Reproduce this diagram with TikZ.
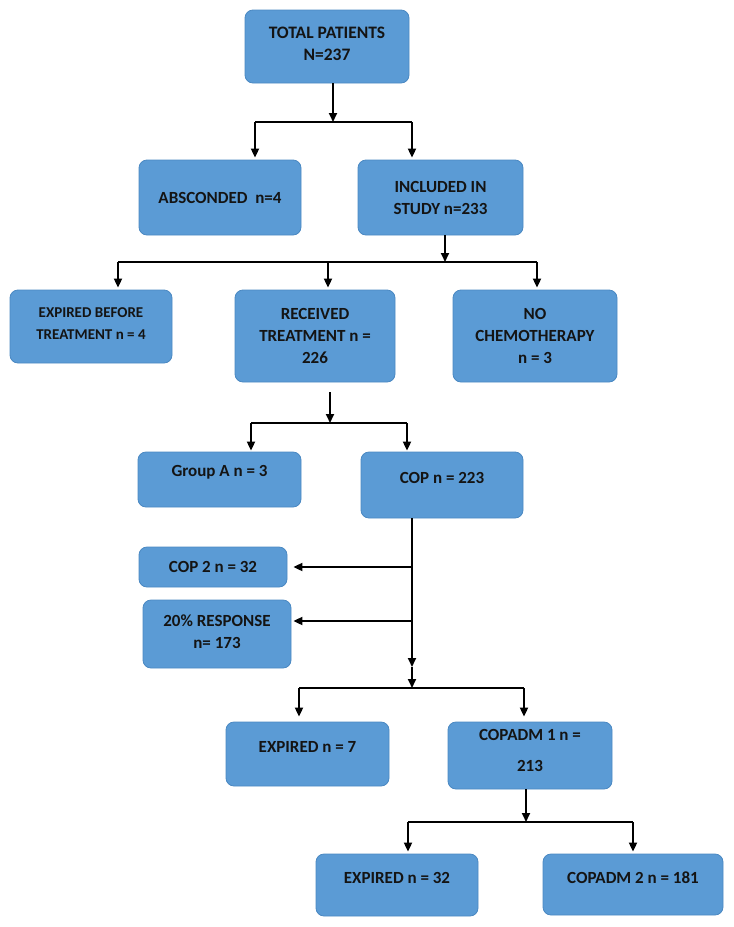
\documentclass[tikz,border=0pt]{standalone}
\usepackage{fontspec}
\setmainfont{Carlito}
\usetikzlibrary{arrows.meta,calc}
\definecolor{boxblue}{HTML}{5B9BD5}
\definecolor{boxedge}{HTML}{4A88C2}
\definecolor{boxink}{HTML}{141414}
\tikzstyle{box}=[draw=boxedge,line width=0.8pt,fill=boxblue,rounded corners=8pt,inner sep=0pt]
\tikzstyle{boxtext}=[text=boxink,font=\bfseries\fontsize{17}{22}\selectfont,align=center,inner sep=0pt]
\tikzstyle{smalltext}=[font=\bfseries\fontsize{15}{22}\selectfont]
\tikzstyle{link}=[line width=1.8pt,black]
\tikzstyle{arr}=[link,-{Triangle[length=9pt,width=8pt]}]
\newcommand{\addbox}[7][]{ % [text options] name, centre x, centre y, width, height, text
\node[box,minimum width=#5pt,minimum height=#6pt] (#2) at (#3,#4) {};
\node[boxtext,#1] (#2t) at (#2.center) {#7};
}
\begin{document}
\begin{tikzpicture}[x=1pt,y=-1pt]
\useasboundingbox (0,0) rectangle (734,927);
	\addbox[yshift=2.5pt,font=\bfseries\fontsize{17.5}{22}\selectfont]{tot}{327}{46.5}{164}{73}{TOTAL PATIENTS\\N=237}
	\addbox{absc}{220}{197.5}{162}{75}{ABSCONDED\ \ n=4}
	\addbox{incl}{440.5}{197.5}{165}{75}{INCLUDED IN\\STUDY n=233}
	\addbox[yshift=2.5pt,smalltext]{expb}{91}{326.5}{162}{73}{EXPIRED BEFORE\\TREATMENT n = 4}
	\addbox{recv}{315}{336}{160}{92}{RECEIVED\\TREATMENT n =\\226}
	\addbox{nochemo}{535}{336}{164}{92}{NO\\CHEMOTHERAPY\\n = 3}
	\addbox[yshift=7.5pt]{grpA}{219.5}{479.5}{163}{55}{Group A n = 3}
	\addbox[yshift=7pt]{cop}{442}{485}{162}{66}{COP n = 223}
	\addbox{cop2}{213}{567}{148}{40}{COP 2 n = 32}
	\addbox[yshift=2pt]{resp}{217}{634}{148}{68}{20\% RESPONSE\\n= 173}
	\addbox[yshift=7pt]{expa}{307.5}{754}{163}{64}{EXPIRED n = 7}
	\addbox[yshift=5pt]{cadma}{530}{755.5}{164}{67}{COPADM 1 n =\\[9pt]213}
	\addbox[yshift=7pt]{expb2}{397}{885}{162}{62}{EXPIRED n = 32}
	\addbox[yshift=6.5pt]{cadmb}{633}{884.5}{180}{61}{COPADM 2 n = 181}
	% first split
	\coordinate (j1) at (333,122);
	\coordinate (j1l) at (255,122);
	\coordinate (j1r) at (412,122);
	\draw[arr] (tot.south -| j1) -- (j1);
	\draw[link] (j1l) -- (j1r);
	\draw[arr] (j1l) -- ([yshift=2pt]j1l |- absc.north);
	\draw[arr] (j1r) -- ([yshift=2pt]j1r |- incl.north);
	% three way split
	\coordinate (j2) at (445,262);
	\coordinate (j2l) at (118,262);
	\coordinate (j2m) at (328,262);
	\coordinate (j2r) at (537,262);
	\draw[arr] (incl.south -| j2) -- (j2);
	\draw[link] (j2l) -- (j2r);
	\draw[arr] (j2l) -- ([yshift=2pt]j2l |- expb.north);
	\draw[arr] (j2m) -- ([yshift=2pt]j2m |- recv.north);
	\draw[arr] (j2r) -- ([yshift=2pt]j2r |- nochemo.north);
	% treatment split
	\coordinate (j3) at (330,423);
	\coordinate (j3l) at (251,423);
	\coordinate (j3r) at (407,423);
	\draw[arr,shorten <=10pt] (recv.south -| j3) -- (j3);
	\draw[link] (j3l) -- (j3r);
	\draw[arr] (j3l) -- ([yshift=1pt]j3l |- grpA.north);
	\draw[arr] (j3r) -- ([yshift=1pt]j3r |- cop.north);
	% COP line with side exits
	\coordinate (j4) at (412,667);
	\coordinate (j5) at (412,688);
	\coordinate (j5l) at (299,688);
	\coordinate (j5r) at (524,688);
	\draw[arr] (cop.south -| j4) -- (j4);
	\draw[arr] (j4) -- (j5);
	\draw[arr] (cop2.east -| j4) -- ([xshift=6pt]cop2.east);
	\draw[arr] (j4 |- 0,621) -- ([xshift=2pt]resp.east |- 0,621);
	\draw[link] (j5l) -- (j5r);
	\draw[arr] (j5l) -- ([yshift=5pt]j5l |- expa.north);
	\draw[arr] (j5r) -- ([yshift=5pt]j5r |- cadma.north);
	% COPADM 1 split
	\coordinate (j6) at (526,822);
	\coordinate (j6l) at (408,822);
	\coordinate (j6r) at (633,822);
	\draw[arr] (cadma.south -| j6) -- (j6);
	\draw[link] (j6l) -- (j6r);
	\draw[arr] (j6l) -- ([yshift=2pt]j6l |- expb2.north);
	\draw[arr] (j6r) -- ([yshift=2pt]j6r |- cadmb.north);
\end{tikzpicture}
\end{document}
